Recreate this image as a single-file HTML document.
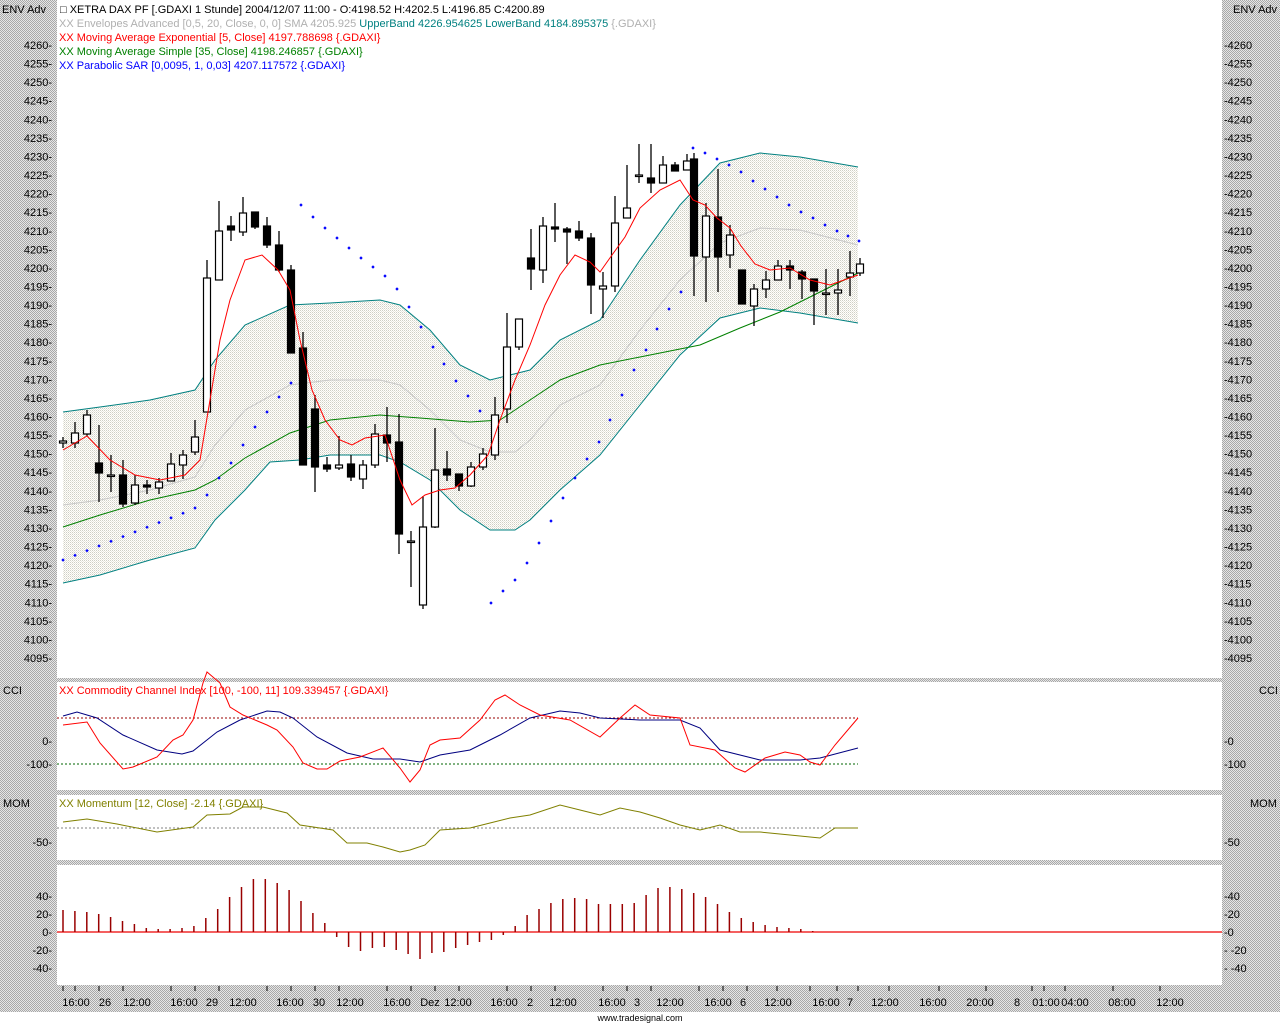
<!DOCTYPE html>
<html><head><meta charset="utf-8"><style>
html,body{margin:0;padding:0;background:#fff;width:1280px;height:1024px;overflow:hidden}
svg text{font-family:"Liberation Sans",sans-serif;font-size:11px;fill:#000}
</style></head><body>
<svg id="s" width="1280" height="1024" xmlns="http://www.w3.org/2000/svg">
<defs>
<pattern id="bg" width="2" height="2" patternUnits="userSpaceOnUse"><rect width="2" height="2" fill="#e6e6e6"/><rect width="1" height="1" fill="#a8a8a8"/><rect x="1" y="1" width="1" height="1" fill="#a8a8a8"/></pattern>
<pattern id="env" width="2" height="2" patternUnits="userSpaceOnUse"><rect width="2" height="2" fill="#fff"/><rect width="1" height="1" fill="#cfcfc4"/><rect x="1" y="1" width="1" height="1" fill="#e8e6da"/></pattern>
</defs>
<rect x="0" y="0" width="1280" height="1012" fill="url(#bg)"/>
<rect x="0" y="1012" width="1280" height="12" fill="#fff"/>
<rect x="57" y="0" width="1165" height="678" fill="#fff"/>
<rect x="57" y="682" width="1165" height="108" fill="#fff"/>
<rect x="57" y="795" width="1165" height="65" fill="#fff"/>
<rect x="57" y="865" width="1165" height="120" fill="#fff"/>
<g id="g"></g>
<text x="2" y="13">ENV Adv</text>
<text x="1233" y="13">ENV Adv</text>
<text x="60" y="13">□ XETRA DAX PF [.GDAXI  1 Stunde] 2004/12/07 11:00 - O:4198.52 H:4202.5 L:4196.85 C:4200.89</text>
<text x="59" y="27" style="fill:#b0b0b0">XX Envelopes Advanced [0,5, 20, Close, 0, 0] SMA 4205.925 <tspan style="fill:#008080">UpperBand 4226.954625 LowerBand 4184.895375</tspan> {.GDAXI}</text>
<text x="59" y="41" style="fill:#f00">XX Moving Average Exponential [5, Close] 4197.788698 {.GDAXI}</text>
<text x="59" y="55" style="fill:#008000">XX Moving Average Simple [35, Close] 4198.246857 {.GDAXI}</text>
<text x="59" y="69" style="fill:#00f">XX Parabolic SAR [0,0095, 1, 0,03] 4207.117572 {.GDAXI}</text>
<text x="59" y="694" style="fill:#f00">XX Commodity Channel Index [100, -100, 11] 109.339457 {.GDAXI}</text>
<text x="59" y="807" style="fill:#808000">XX Momentum [12, Close] -2.14 {.GDAXI}</text>
<text x="3" y="694">CCI</text><text x="1259" y="694">CCI</text>
<text x="3" y="807">MOM</text><text x="1250" y="807">MOM</text>
<g text-anchor="end">
<text x="52" y="49">4260-</text><text x="52" y="67.6">4255-</text><text x="52" y="86.2">4250-</text><text x="52" y="104.7">4245-</text><text x="52" y="123.3">4240-</text><text x="52" y="141.9">4235-</text><text x="52" y="160.5">4230-</text><text x="52" y="179">4225-</text><text x="52" y="197.6">4220-</text><text x="52" y="216.2">4215-</text><text x="52" y="234.8">4210-</text><text x="52" y="253.3">4205-</text><text x="52" y="271.9">4200-</text><text x="52" y="290.5">4195-</text><text x="52" y="309.1">4190-</text><text x="52" y="327.6">4185-</text><text x="52" y="346.2">4180-</text><text x="52" y="364.8">4175-</text><text x="52" y="383.4">4170-</text><text x="52" y="401.9">4165-</text><text x="52" y="420.5">4160-</text><text x="52" y="439.1">4155-</text><text x="52" y="457.7">4150-</text><text x="52" y="476.2">4145-</text><text x="52" y="494.8">4140-</text><text x="52" y="513.4">4135-</text><text x="52" y="532">4130-</text><text x="52" y="550.5">4125-</text><text x="52" y="569.1">4120-</text><text x="52" y="587.7">4115-</text><text x="52" y="606.3">4110-</text><text x="52" y="624.8">4105-</text><text x="52" y="643.4">4100-</text><text x="52" y="662">4095-</text>
<text x="52" y="745">0-</text><text x="52" y="768">-100-</text>
<text x="52" y="846">-50-</text>
<text x="52" y="900">40-</text><text x="52" y="918">20-</text><text x="52" y="936">0-</text><text x="52" y="954">-20-</text><text x="52" y="972">-40-</text>
</g>
<g>
<text x="1224" y="49">-4260</text><text x="1224" y="67.6">-4255</text><text x="1224" y="86.2">-4250</text><text x="1224" y="104.7">-4245</text><text x="1224" y="123.3">-4240</text><text x="1224" y="141.9">-4235</text><text x="1224" y="160.5">-4230</text><text x="1224" y="179">-4225</text><text x="1224" y="197.6">-4220</text><text x="1224" y="216.2">-4215</text><text x="1224" y="234.8">-4210</text><text x="1224" y="253.3">-4205</text><text x="1224" y="271.9">-4200</text><text x="1224" y="290.5">-4195</text><text x="1224" y="309.1">-4190</text><text x="1224" y="327.6">-4185</text><text x="1224" y="346.2">-4180</text><text x="1224" y="364.8">-4175</text><text x="1224" y="383.4">-4170</text><text x="1224" y="401.9">-4165</text><text x="1224" y="420.5">-4160</text><text x="1224" y="439.1">-4155</text><text x="1224" y="457.7">-4150</text><text x="1224" y="476.2">-4145</text><text x="1224" y="494.8">-4140</text><text x="1224" y="513.4">-4135</text><text x="1224" y="532">-4130</text><text x="1224" y="550.5">-4125</text><text x="1224" y="569.1">-4120</text><text x="1224" y="587.7">-4115</text><text x="1224" y="606.3">-4110</text><text x="1224" y="624.8">-4105</text><text x="1224" y="643.4">-4100</text><text x="1224" y="662">-4095</text>
<text x="1224" y="745">-0</text><text x="1224" y="768">-100</text>
<text x="1224" y="846">-50</text>
<text x="1224" y="900">-40</text><text x="1224" y="918">-20</text><text x="1224" y="936">-0</text><text x="1224" y="954">- -20</text><text x="1224" y="972">- -40</text>
</g>
<g text-anchor="middle">
<text x="76" y="1006">16:00</text><text x="105" y="1006">26</text><text x="137" y="1006">12:00</text><text x="184" y="1006">16:00</text><text x="212" y="1006">29</text><text x="243" y="1006">12:00</text><text x="290" y="1006">16:00</text><text x="319" y="1006">30</text><text x="350" y="1006">12:00</text><text x="397" y="1006">16:00</text><text x="430" y="1006">Dez</text><text x="458" y="1006">12:00</text><text x="504" y="1006">16:00</text><text x="530" y="1006">2</text><text x="563" y="1006">12:00</text><text x="612" y="1006">16:00</text><text x="637" y="1006">3</text><text x="670" y="1006">12:00</text><text x="718" y="1006">16:00</text><text x="743" y="1006">6</text><text x="778" y="1006">12:00</text><text x="826" y="1006">16:00</text><text x="850" y="1006">7</text><text x="885" y="1006">12:00</text><text x="933" y="1006">16:00</text><text x="980" y="1006">20:00</text><text x="1017" y="1006">8</text><text x="1046" y="1006">01:00</text><text x="1075" y="1006">04:00</text><text x="1122" y="1006">08:00</text><text x="1170" y="1006">12:00</text>
<text x="640" y="1021" style="font-size:9px">www.tradesignal.com</text>
</g>
</svg>
<script>
var g=document.getElementById('g'),NS='http://www.w3.org/2000/svg';
function el(t,a){var e=document.createElementNS(NS,t);for(var k in a)e.setAttribute(k,a[k]);g.appendChild(e);return e;}
function pl(p,c,w,extra){var a={points:p,fill:'none',stroke:c,'stroke-width':w||1};for(var k in extra)a[k]=extra[k];el('polyline',a);}
var up="63,412 100,407 150,400 195,390 215,360 245,325 290,305 330,303 380,300 400,305 430,330 460,365 490,380 510,375 530,370 560,340 600,320 640,260 680,205 720,163 760,153 800,157 858,167";
var lo="63,583 100,575 150,560 195,548 215,520 245,490 270,462 300,460 330,455 380,455 400,462 430,480 460,510 490,530 515,530 530,520 560,490 600,455 640,405 680,355 720,318 760,308 800,313 858,323";
el('polygon',{points:up+" "+lo.split(' ').reverse().join(' '),fill:'url(#env)'});
pl("63,505 100,500 150,490 195,477 215,445 245,410 290,385 330,380 380,380 400,385 430,410 460,440 490,452 515,452 530,440 560,405 600,385 640,330 680,280 720,243 760,228 800,230 858,245",'#c8c8c8');
pl(up,'#008080');pl(lo,'#008080');
pl("63,527 100,515 150,500 195,490 215,480 245,458 290,433 330,420 380,415 420,418 470,422 500,420 530,400 560,380 600,365 640,357 700,345 740,328 780,312 820,292 858,273",'#008000');
var C=[[63,443,441,437,448],[75,443,433,422,448],[87,434,415,410,436],[99,463,473,425,502],[111,475,475,455,492],[123,475,504,460,507],[135,503,485,475,505],[147,485,487,480,494],[159,488,482,478,494],[171,481,464,453,481],[183,465,455,450,479],[195,452,437,420,455],[207,412,278,260,412],[219,280,231,201,280],[231,226,230,216,241],[243,232,213,197,236],[255,212,227,212,229],[267,226,245,217,248],[279,245,270,231,272],[291,270,353,265,353],[303,348,465,332,465],[315,409,467,395,492],[327,465,469,457,472],[339,468,465,436,470],[351,464,477,455,481],[363,479,465,460,489],[375,465,434,424,468],[387,435,443,407,462],[399,442,534,414,554],[411,541,541,531,587],[423,605,527,496,609],[435,527,470,428,528],[447,469,475,451,481],[459,474,486,474,491],[471,486,467,462,487],[483,467,454,448,470],[495,455,415,397,460],[507,409,347,313,423],[519,347,319,319,350],[531,258,269,229,290],[543,270,226,217,283],[555,227,229,203,242],[567,229,232,227,264],[579,231,238,221,241],[591,238,285,233,314],[603,289,286,272,318],[615,286,223,196,292],[627,218,208,165,218],[639,175,175,144,183],[651,178,183,144,193],[663,183,165,156,183],[675,165,171,162,171],[687,170,161,154,170],[694,159,256,153,296],[706,257,216,203,302],[718,217,257,169,292],[730,255,235,225,268],[742,270,304,270,304],[754,306,289,284,326],[766,289,280,271,298],[778,280,266,260,280],[790,266,270,260,289],[802,272,279,270,299],[814,279,291,279,325],[826,293,293,269,315],[838,293,290,269,315],[850,277,273,251,296],[860,273,264,258,276]];
C.forEach(function(b){var x=b[0],o=b[1],c=b[2];
 el('line',{x1:x,x2:x,y1:b[3],y2:b[4],stroke:'#000','stroke-width':1.3});
 var t=Math.min(o,c),h=Math.max(Math.abs(o-c),1.5);
 el('rect',{x:x-3.5,y:t,width:7,height:h,fill:(c>o?'#000':'#fff'),stroke:'#000','stroke-width':1.2});
});
pl("63,450 87,436 110,460 135,475 160,480 185,475 200,460 210,400 220,340 230,300 245,260 262,255 278,270 290,290 300,340 312,390 325,420 340,440 352,445 365,438 385,435 400,480 412,505 425,495 440,490 455,488 470,475 488,455 500,420 515,380 530,345 545,305 560,275 575,255 590,262 600,272 612,255 625,237 640,208 660,190 680,180 693,200 705,205 717,218 730,228 741,246 755,264 770,270 790,268 810,280 830,285 858,275",'#f00');
var S=[];for(var x=63;x<=183;x+=12)S.push([x,560-0.39*(x-63)]);
S=S.concat([[195,508],[207,495],[219,478],[231,463],[243,445],[255,427],[267,412],[279,397],[291,383],[301,205],[313,217],[325,228],[337,238],[349,248],[361,258],[373,267],[385,276],[397,289],[409,307],[421,327],[433,347],[444,364],[456,381],[468,396],[480,411],[491,603],[503,591],[515,580],[527,563],[539,543],[551,521],[563,498],[575,478],[587,459],[599,442],[610,420],[622,395],[634,370],[646,350],[657,329],[669,309],[681,292],[693,148],[705,153],[717,159],[729,165],[741,172],[753,181],[765,189],[777,197],[789,205],[801,212],[813,218],[825,225],[837,231],[848,236],[859,241]]);
S.forEach(function(p){el('rect',{x:p[0]-1.2,y:p[1]-1.2,width:2.4,height:2.4,fill:'#00f',transform:'rotate(45 '+p[0]+' '+p[1]+')'});});
el('line',{x1:57,x2:858,y1:718,y2:718,stroke:'#900','stroke-dasharray':'2,2'});
el('line',{x1:57,x2:858,y1:764,y2:764,stroke:'#060','stroke-dasharray':'2,2'});
pl("63,716 77,712 97,718 123,735 157,750 182,754 193,751 217,732 240,720 267,711 280,712 293,718 317,737 347,753 373,759 400,759 420,762 440,755 470,750 500,735 530,718 560,711 580,713 600,718 640,720 680,720 700,728 720,750 760,760 800,760 820,758 858,748",'#000080');
pl("63,725 87,722 100,743 123,769 133,767 157,757 173,740 183,735 193,720 203,683 207,672 220,683 230,707 243,715 267,725 277,730 293,747 303,763 317,769 327,769 340,761 360,757 383,748 400,768 410,782 420,770 430,745 440,740 460,738 480,720 495,700 505,695 520,705 540,715 570,720 600,737 620,718 635,705 650,715 680,718 690,745 715,750 735,768 745,772 765,758 785,752 800,755 810,762 820,765 835,745 858,718",'#f00');
el('line',{x1:57,x2:858,y1:828,y2:828,stroke:'#808080','stroke-dasharray':'2,2'});
pl("63,822 87,819 117,824 157,832 193,827 207,815 230,814 243,807 263,807 287,813 300,825 333,830 347,843 367,843 383,847 400,852 410,850 425,845 440,830 470,828 490,823 510,818 530,815 560,805 580,810 600,815 620,808 640,812 660,818 680,825 700,830 720,825 740,832 760,832 790,835 820,838 835,828 858,828",'#808000');
el('line',{x1:57,x2:1222,y1:932,y2:932,stroke:'#e00','stroke-width':1.3});
var H=[910,911,912,914,917,921,924,928,929,929,928,926,918,909,897,887,879,879,883,890,901,913,923,937,947,951,948,947,950,954,959,953,952,948,945,942,940,935,926,915,909,903,899,898,899,904,904,904,903,895,888,887,889,893,897,904,912,918,922,925,927,928,929,931,932,932,932];
H.forEach(function(y,i){var x=63+i*11.9;el('line',{x1:x,x2:x,y1:932,y2:y,stroke:'#900','stroke-width':1.5});});
[63,75,99,123,171,195,219,267,291,315,339,387,411,435,459,507,531,555,603,627,651,699,723,747,777,810,837,858,889,939,986,1032,1044,1065,1113,1160].forEach(function(x){el('line',{x1:x,x2:x,y1:986,y2:991,stroke:'#000'});});
</script>
</body></html>
